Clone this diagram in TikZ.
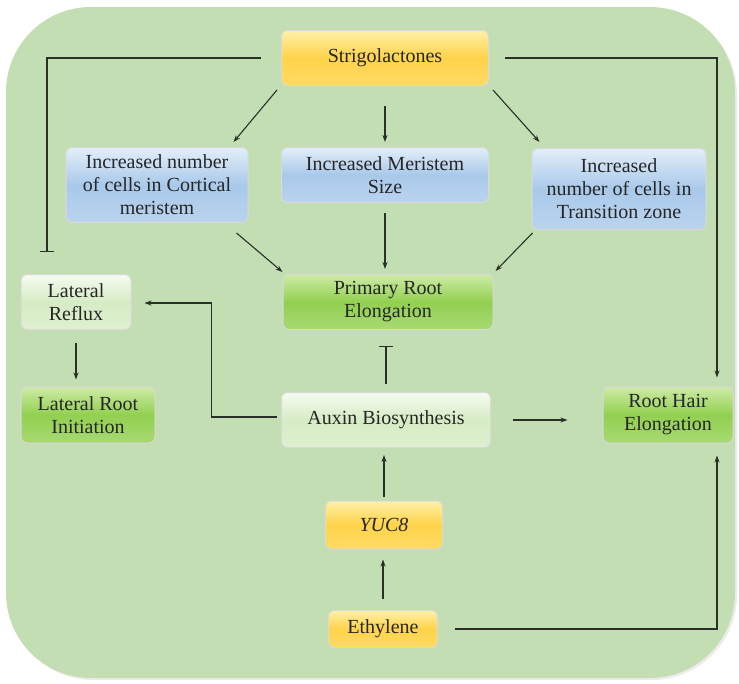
\documentclass[tikz,border=0pt]{standalone}
\usepackage{fontspec}
\setmainfont{Liberation Serif}
\usetikzlibrary{arrows.meta,calc}
\definecolor{bgg}{HTML}{C4DEB3}
\definecolor{ink}{HTML}{2A2F2A}
\definecolor{yelM}{HTML}{FFD34A}
\definecolor{yelT}{HTML}{FFF0A8}
\definecolor{bluM}{HTML}{A9C9EA}
\definecolor{bluT}{HTML}{E3EEF9}
\definecolor{grnM}{HTML}{92D050}
\definecolor{grnT}{HTML}{CDEBA6}
\definecolor{palM}{HTML}{D6ECC4}
\definecolor{palT}{HTML}{F6FBF1}
\tikzset{
  box/.style={rounded corners=6pt, align=center, text=black!85, inner sep=2pt,
    font=\fontsize{20}{23}\selectfont, draw=white!70!gray, line width=1pt},
  yelbox/.style={box, top color=yelT, bottom color=yelM!85!white, middle color=yelM},
  blubox/.style={box, top color=bluT, bottom color=bluM!80!white, middle color=bluM},
  grnbox/.style={box, top color=grnT, bottom color=grnM!80!white, middle color=grnM},
  palbox/.style={box, top color=palT, bottom color=palM!80!white, middle color=palM},
  conn/.style={draw=ink, line width=1.1pt, -{Stealth[length=7pt,width=5pt]}},
  inhib/.style={draw=ink, line width=1.1pt, -{Bar[width=14pt]}},
}
\begin{document}
\begin{tikzpicture}[x=1pt,y=-1pt]
\useasboundingbox (0,0) rectangle (739,683);
% background panel
\fill[gray!15, rounded corners=85pt] (8,9) rectangle (737,680);
\fill[bgg, rounded corners=85pt] (6,7) rectangle (735,678);

% nodes
\node[yelbox, minimum width=207pt, minimum height=55pt] (s) at (385,58) {Strigolactones};
\node[blubox, minimum width=182pt, minimum height=75pt] (c1) at (157,185) {Increased number\\of cells in Cortical\\meristem};
\node[blubox, minimum width=207pt, minimum height=55pt] (c2) at (385,175) {Increased Meristem\\Size};
\node[blubox, minimum width=174pt, minimum height=81pt] (c3) at (619,189) {Increased\\number of cells in\\Transition zone};
\node[palbox, minimum width=110pt, minimum height=55pt] (lr) at (76,302) {Lateral\\Reflux};
\node[grnbox, minimum width=210pt, minimum height=55pt] (p) at (388,302) {Primary Root\\Elongation};
\node[grnbox, minimum width=134pt, minimum height=56pt] (lri) at (88,415) {Lateral Root\\Initiation};
\node[palbox, minimum width=209pt, minimum height=55pt] (a) at (386,420) {Auxin Biosynthesis};
\node[grnbox, minimum width=130pt, minimum height=56pt] (rh) at (668,415) {Root Hair\\Elongation};
\node[yelbox, minimum width=117pt, minimum height=48pt] (y) at (384,525) {\itshape YUC8};
\node[yelbox, minimum width=109pt, minimum height=37pt] (e) at (383,629) {Ethylene};

% connectors
\draw[conn] ([shift={(-4,4)}]s.south west) -- ([shift={(-15,-5)}]c1.north east);
\draw[conn, shorten <=20pt, shorten >=5pt] (s.south) -- (s.south |- c2.north);
\draw[conn] ([shift={(4,4)}]s.south east) -- ([shift={(8,-6)}]c3.north west);
\draw[conn] ([shift={(-12,10)}]c1.south east) -- ([shift={(0,-2)}]p.north west);
\draw[conn, shorten <=10pt, shorten >=5pt] (c2.south) -- (c2.south |- p.north);
\draw[conn] ([shift={(1,3)}]c3.south west) -- ([shift={(2,-3)}]p.north east);
\draw[inhib, shorten <=20pt] (s.west) -| ([shift={(-29,-22)}]lr.north);
\draw[conn, shorten <=16pt] (s.east) -| ([shift={(49,-9)}]rh.north);
\draw[conn] ([shift={(-4,-3)}]a.west) -| ([shift={(80,1)}]lr.east) -- ([shift={(13,1)}]lr.east);
\draw[conn, shorten <=13pt, shorten >=7pt] (lr.south) -- (lr.south |- lri.north);
\draw[inhib, shorten <=8pt, shorten >=16pt] (a.north) -- (a.north |- p.south);
\draw[conn, shorten <=22pt, shorten >=35pt] (a.east) -- (a.east -| rh.west);
\draw[conn, shorten <=4pt, shorten >=7pt] (y.north) -- (y.north |- a.south);
\draw[conn, shorten <=11pt, shorten >=10pt] (e.north) -- (e.north |- y.south);
\draw[conn, shorten <=17pt] (e.east) -| ([shift={(49,12)}]rh.south);
\end{tikzpicture}
\end{document}
